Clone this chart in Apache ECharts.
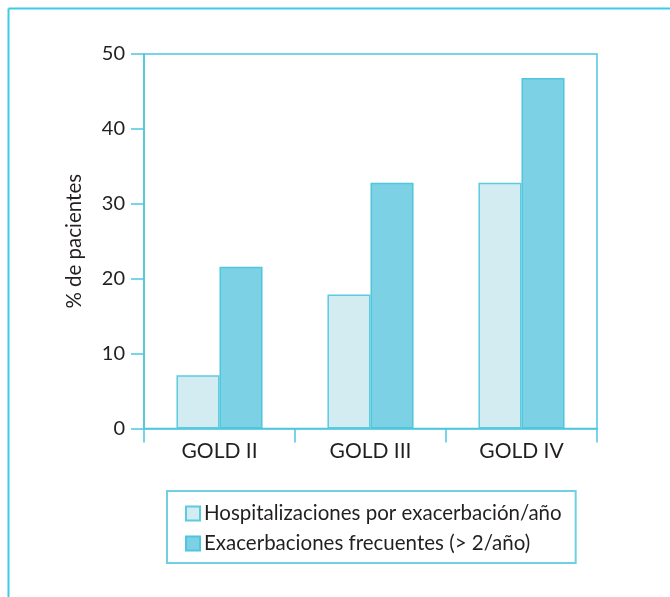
<!DOCTYPE html>
<html>
<head>
<meta charset="utf-8">
<style>
  html, body { margin: 0; padding: 0; background: #ffffff; }
  #chart { width: 670px; height: 597px; }
</style>
<script src="https://cdn.jsdelivr.net/npm/echarts@6/dist/echarts.min.js"></script>
</head>
<body>
<div id="chart"></div>
<script>
// Estadios GOLD en el eje de categorías
const categories = ['GOLD II', 'GOLD III', 'GOLD IV'];
// % de pacientes hospitalizados por exacerbación/año
const hospitalizaciones = [7.1, 17.9, 32.8];
// % de pacientes con exacerbaciones frecuentes (> 2/año)
const exacerbaciones = [21.6, 32.8, 46.8];
const yTicks = [0, 10, 20, 30, 40, 50];

const seriesNames = [
  'Hospitalizaciones por exacerbación/año',
  'Exacerbaciones frecuentes (> 2/año)'
];

const FONT = 'Lato';
const TEXT = '#231f20';
const AXIS = '#4cc6de';

const chart = echarts.init(document.getElementById('chart'), null, { renderer: 'canvas' });

chart.setOption({
  animation: false,
  backgroundColor: '#ffffff',
  textStyle: { fontFamily: FONT, color: TEXT },
  graphic: [
    // marco exterior de la figura
    { type: 'line', shape: { x1: 8.5, y1: 8.5, x2: 670, y2: 8.5 }, style: { stroke: '#3dcbe6', lineWidth: 2 } },
    { type: 'line', shape: { x1: 8.5, y1: 8.5, x2: 8.5, y2: 597 }, style: { stroke: '#3dcbe6', lineWidth: 2 } }
  ],
  grid: {
    left: 144, top: 54, right: 73, bottom: 168.5,
    show: true, borderColor: AXIS, borderWidth: 1.5, backgroundColor: 'transparent'
  },
  legend: {
    orient: 'vertical',
    left: 167, top: 491,
    padding: [12, 14, 9, 18],
    itemGap: 9,
    itemWidth: 14, itemHeight: 14,
    icon: 'rect',
    borderColor: '#6fd0e2', borderWidth: 2,
    textStyle: { fontFamily: FONT, fontSize: 20.5, color: TEXT, padding: [0, 0, 0, -1] },
    data: seriesNames
  },
  xAxis: {
    type: 'category',
    data: categories,
    axisLine: { lineStyle: { color: AXIS, width: 1.5 } },
    axisTick: { show: true, length: 14, lineStyle: { color: AXIS, width: 1.5 } },
    axisLabel: { fontFamily: FONT, fontSize: 21, color: TEXT, margin: 12 }
  },
  yAxis: {
    type: 'value',
    min: yTicks[0], max: yTicks[yTicks.length - 1], interval: 10,
    name: '% de pacientes',
    nameLocation: 'middle',
    nameGap: 59,
    nameRotate: 90,
    nameTextStyle: { fontFamily: FONT, fontSize: 20.5, color: TEXT },
    axisLine: { show: true, lineStyle: { color: AXIS, width: 1.5 } },
    axisTick: { show: true, length: 13, lineStyle: { color: AXIS, width: 1.5 } },
    axisLabel: { fontFamily: FONT, fontSize: 20, color: TEXT, margin: 19 },
    splitLine: { show: false }
  },
  series: [
    {
      name: seriesNames[0],
      type: 'bar',
      data: hospitalizaciones,
      barGap: '0%',
      barCategoryGap: '43%',
      itemStyle: { color: '#d3ecf1', borderColor: '#5ccbe0', borderWidth: 1.5 }
    },
    {
      name: seriesNames[1],
      type: 'bar',
      data: exacerbaciones,
      barGap: '0%',
      barCategoryGap: '43%',
      itemStyle: { color: '#7cd2e4', borderColor: '#4ec6dd', borderWidth: 1.5 }
    }
  ]
});
</script>
</body>
</html>
